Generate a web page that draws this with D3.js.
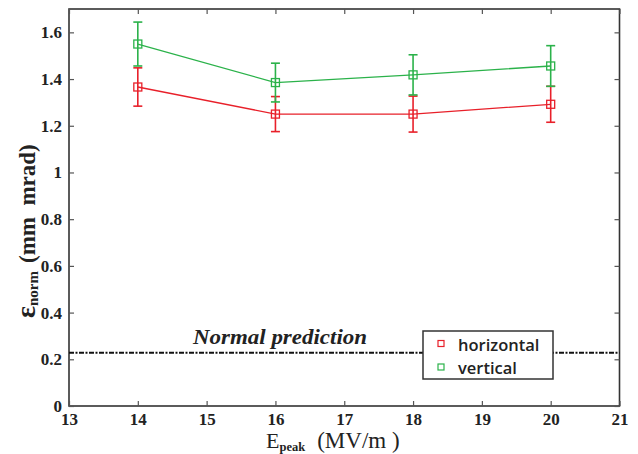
<!DOCTYPE html>
<html><head><meta charset="utf-8">
<script src="https://cdn.jsdelivr.net/npm/d3@7"></script>
<style>body{margin:0;background:#fff}svg{display:block}text{white-space:pre}</style>
</head><body><svg id="c" width="638" height="454"></svg>
<script>
const fields = [14, 16, 18, 20];
const horizontal = [1.366, 1.250, 1.250, 1.292];
const horizontalErr = [0.082, 0.075, 0.077, 0.077];
const vertical = [1.550, 1.385, 1.418, 1.456];
const verticalErr = [0.094, 0.083, 0.086, 0.087];
const prediction = 0.228;
const xTicks = [13, 14, 15, 16, 17, 18, 19, 20, 21];
const yTicks = [0, 0.2, 0.4, 0.6, 0.8, 1, 1.2, 1.4, 1.6];
const seriesNames = ["horizontal", "vertical"];
const colors = ["#e8202a", "#2bb24a"];

const svg = d3.select("#c");
const L = 69, R = 619.5, T = 9, B = 406;
const x = d3.scaleLinear().domain([13, 21]).range([L, R]);
const y = d3.scaleLinear().domain([0, 1.7]).range([B, T]);
const axisColor = "#333";
const serif = "Liberation Serif, Times New Roman, serif";

// frame
svg.append("rect").attr("x", L).attr("y", T).attr("width", R - L).attr("height", B - T)
  .attr("fill", "none").attr("stroke", axisColor).attr("stroke-width", 1.6);

// axes
const styleAxis = g => {
  g.attr("font-family", serif);
  g.select(".domain").remove();
  g.selectAll(".tick line").attr("stroke", "#555").attr("stroke-width", 1.2);
  g.selectAll(".tick text").attr("font-family", serif).attr("font-weight", "bold")
    .attr("font-size", 17).attr("fill", "#222");
};
svg.append("g").attr("transform", `translate(0,${B})`)
  .call(d3.axisBottom(x).tickValues(xTicks).tickFormat(d3.format("d")).tickSizeInner(-5).tickSizeOuter(0).tickPadding(7))
  .call(styleAxis)
  .call(g => g.selectAll(".tick text").attr("dy", "0.72em"));
svg.append("g").attr("transform", `translate(0,${T})`)
  .call(d3.axisTop(x).tickValues(xTicks).tickFormat("").tickSizeInner(-5).tickSizeOuter(0))
  .call(styleAxis);
svg.append("g").attr("transform", `translate(${L},0)`)
  .call(d3.axisLeft(y).tickValues(yTicks).tickFormat(d => d3.format("")(+d.toFixed(1))).tickSizeInner(-5).tickSizeOuter(0).tickPadding(7))
  .call(styleAxis);
svg.append("g").attr("transform", `translate(${R},0)`)
  .call(d3.axisRight(y).tickValues(yTicks).tickFormat("").tickSizeInner(-5).tickSizeOuter(0))
  .call(styleAxis);

// prediction line
svg.append("line").attr("x1", L).attr("x2", R).attr("y1", y(prediction)).attr("y2", y(prediction))
  .attr("stroke", "#111").attr("stroke-width", 2).attr("stroke-dasharray", "5,1.5,2,1.5");
svg.append("text").attr("x", 193).attr("y", 344).attr("font-family", serif)
  .attr("font-style", "italic").attr("font-weight", "bold").attr("font-size", 21)
  .attr("textLength", 174).attr("lengthAdjust", "spacingAndGlyphs").attr("fill", "#222")
  .text("Normal prediction");

// series
const series = [
  {vals: horizontal, err: horizontalErr, color: colors[0]},
  {vals: vertical, err: verticalErr, color: colors[1]}
];
const line = d3.line().x((d, i) => x(fields[i])).y(d => y(d));
series.forEach(s => {
  const g = svg.append("g");
  g.append("path").attr("d", line(s.vals)).attr("fill", "none").attr("stroke", s.color).attr("stroke-width", 1.3);
  s.vals.forEach((v, i) => {
    const cx = x(fields[i]);
    const lo = y(v - s.err[i]), hi = y(v + s.err[i]);
    g.append("line").attr("x1", cx).attr("x2", cx).attr("y1", lo).attr("y2", hi)
      .attr("stroke", s.color).attr("stroke-width", 1.6);
    [lo, hi].forEach(yy => g.append("line").attr("x1", cx - 4.5).attr("x2", cx + 4.5)
      .attr("y1", yy).attr("y2", yy).attr("stroke", s.color).attr("stroke-width", 1.6));
    g.append("rect").attr("x", cx - 4).attr("y", y(v) - 4).attr("width", 8).attr("height", 8)
      .attr("fill", "none").attr("stroke", s.color).attr("stroke-width", 1.3);
  });
});

// legend
const lg = svg.append("g");
lg.append("rect").attr("x", 423).attr("y", 331).attr("width", 130).attr("height", 48)
  .attr("fill", "#fff").attr("stroke", "#333").attr("stroke-width", 1.5);
seriesNames.forEach((n, i) => {
  const yy = 343.5 + i * 23.5;
  lg.append("rect").attr("x", 438).attr("y", yy - 3).attr("width", 6).attr("height", 6)
    .attr("fill", "none").attr("stroke", colors[i]).attr("stroke-width", 1.2);
  lg.append("text").attr("x", 458).attr("y", yy + 7).attr("font-family", "Open Sans, Liberation Sans, sans-serif")
    .attr("font-weight", 600).attr("font-size", 16.5).attr("fill", "#222").text(n);
});

// x title
const xt = svg.append("text").attr("x", 266).attr("y", 448).attr("font-family", serif).attr("fill", "#222");
xt.append("tspan").attr("font-size", 22).text("E");
xt.append("tspan").attr("font-size", 12.5).attr("font-weight", "bold").attr("dy", 2.5).text("peak");
xt.append("tspan").attr("font-size", 23).attr("dy", -2.5).attr("dx", 12).text("(MV/m )");

// y title
const yt = svg.append("text").attr("transform", "translate(35,318) rotate(-90)")
  .attr("font-family", serif).attr("font-weight", "bold").attr("fill", "#222");
yt.append("tspan").attr("font-size", 28).text("ε");
yt.append("tspan").attr("font-size", 15).attr("dy", 3).text("norm");
yt.append("tspan").attr("font-size", 23).attr("dy", -3).attr("dx", 8).text("(mm  mrad)");
</script></body></html>
